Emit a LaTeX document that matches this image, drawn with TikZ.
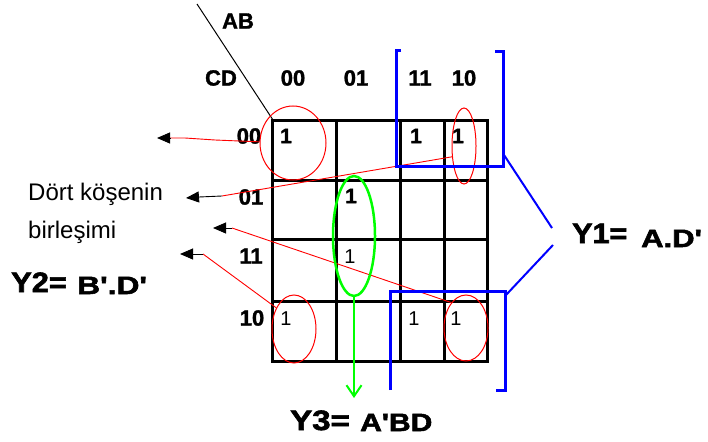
\documentclass[tikz,border=0pt]{standalone}
\usepackage{fontspec}
\setmainfont{Liberation Sans}
\newfontfamily\heavyfont{Liberation Sans}[BoldFeatures={FakeBold=2}]
\newfontfamily\labfont{Liberation Sans}[BoldFeatures={FakeBold=1.5}]
\usepackage{graphicx}
\usetikzlibrary{shapes.geometric,arrows.meta}
\begin{document}
\begin{tikzpicture}[x=1pt,y=-1pt,
  lab/.style={inner sep=0pt,font=\labfont\fontsize{22}{24}\selectfont\bfseries},
  onebold/.style={inner sep=0pt,font=\labfont\fontsize{21}{22}\selectfont\bfseries},
  onethin/.style={inner sep=0pt,font=\fontsize{20}{22}\selectfont},
  plain/.style={inner sep=0pt,anchor=base west,font=\fontsize{24}{26}\selectfont},
  eqbig/.style={inner sep=0pt,anchor=base west,font=\heavyfont\fontsize{28}{30}\selectfont\bfseries},
  eqsmall/.style={inner sep=0pt,anchor=base west,font=\heavyfont\fontsize{25}{27}\selectfont\bfseries},
  ring/.style={draw=red,line width=1pt,ellipse,inner sep=0pt},
  redline/.style={red,line width=0.9pt},
  tiparrow/.style={-{Triangle[length=13pt,width=11pt]},black,line width=0.9pt},
  bluebr/.style={blue,line width=3pt,line join=miter},
  blueln/.style={blue,line width=2pt},
  gridline/.style={black,line width=3pt},
  greenline/.style={green,line width=2.5pt}]
\fill[white] (0,0) rectangle (708,441);
\useasboundingbox (0,0) rectangle (708,441);
% grid
\draw[gridline] (272,120) rectangle (487,361);
\draw[gridline] (336,120) -- (336,361);
\draw[gridline] (400,120) -- (400,361);
\draw[gridline] (444,120) -- (444,361);
\draw[gridline] (272,180) -- (487,180);
\draw[gridline] (272,239) -- (487,239);
\draw[gridline] (272,301) -- (487,301);
% diagonal
\coordinate (dtop) at (197,4);
\coordinate (dbot) at (273,120);
\draw[black,line width=1pt] (dtop) -- (dbot);
% labels
\node[lab] (lAB) at (238,21) {AB};
\node[lab] (lCD) at (221,78) {CD};
\node[lab] (c00) at (293,78) {00};
\node[lab] (c01) at (356,78) {01};
\node[lab] (c11) at (420,78) {11};
\node[lab] (c10) at (464,78) {10};
\node[lab] (r00) at (249,136) {00};
\node[lab] (r01) at (251,197) {01};
\node[lab] (r11) at (251,256) {11};
\node[lab] (r10) at (252,318) {10};
% ones
\node[onebold] (m0) at (286,136) {1};
\node[onebold] (m2) at (416,136) {1};
\node[onebold] (m3) at (458,136) {1};
\node[onebold] (m5) at (351,196) {1};
\node[onethin] (m7) at (350,257) {1};
\node[onethin] (m8) at (286,319) {1};
\node[onethin] (m10) at (414,319) {1};
\node[onethin] (m11) at (456,319) {1};
% red rings
\node[ring,minimum width=66pt,minimum height=74pt] (e1) at (293,143) {};
\node[ring,minimum width=24pt,minimum height=76pt] (e2) at (464,146) {};
\node[ring,minimum width=44pt,minimum height=68pt] (e3) at (294,329) {};
\node[ring,minimum width=44pt,minimum height=66pt] (e4) at (466,328) {};
% arrows to the left
\coordinate (a1b) at (170,138); \coordinate (a1t) at (157,138);
\coordinate (a2b) at (222,196); \coordinate (a2m) at (199,197); \coordinate (a2t) at (186,198);
\coordinate (a3b) at (232,228); \coordinate (a3m) at (226,228); \coordinate (a3t) at (213,228);
\coordinate (a4b) at (203,254); \coordinate (a4m) at (193,254); \coordinate (a4t) at (180,254);
\draw[redline] (e1.178) -- (215,140) -- (185,138) -- (a1b);
\draw[tiparrow] (a1b) -- (a1t);
\draw[redline] (e2.222) -- (a2b);
\draw[black,line width=0.9pt] (a2b) -- (a2m);
\draw[tiparrow] (a2m) -- (a2t);
\draw[redline] (e4.120) -- (a3b);
\draw[black,line width=0.9pt] (a3b) -- (a3m);
\draw[tiparrow] (a3m) -- (a3t);
\draw[redline] (e3.130) -- (a4b);
\draw[black,line width=0.9pt] (a4b) -- (a4m);
\draw[tiparrow] (a4m) -- (a4t);
% blue brackets
\draw[bluebr] (401,51) -- (396,51) -- (396,166) -- (503,166) -- (503,52) -- (495,52);
\draw[bluebr] (390,390) -- (390,291) -- (505,291) -- (505,390) -- (496,390);
\coordinate (b1s) at (504,155); \coordinate (b1e) at (552,228);
\coordinate (b2s) at (553,245); \coordinate (b2e) at (506,295);
\draw[blueln] (b1s) -- (b1e);
\draw[blueln] (b2s) -- (b2e);
% green group
\node[draw=green,line width=2.5pt,ellipse,inner sep=0pt,minimum width=42pt,minimum height=120pt] (g) at (354,236) {};
\coordinate (gend) at (354,398);
\draw[greenline,-{Straight Barb[length=11pt,width=15pt,line width=2pt]}] (g.south) -- (gend);
% texts
\node[plain] (t1) at (28,200) {Dört köşenin};
\node[plain] (t2) at (28,238) {birleşimi};
\node[eqbig] (y1a) at (572,243) {\scalebox{1.09}[1]{Y1=}};
\node[eqsmall] (y1b) at (641,247) {\scalebox{1.24}[1]{A.D\textquotesingle}};
\node[eqbig] (y2a) at (11,292) {\scalebox{1.1}[1]{Y2=}};
\node[eqsmall] (y2b) at (77,294) {\scalebox{1.27}[1]{B\textquotesingle.D\textquotesingle}};
\node[eqbig] (y3a) at (290,430) {\scalebox{1.18}[1]{Y3=}};
\node[eqsmall] (y3b) at (360,431) {\scalebox{1.2}[1]{A\textquotesingle BD}};
\end{tikzpicture}
\end{document}
